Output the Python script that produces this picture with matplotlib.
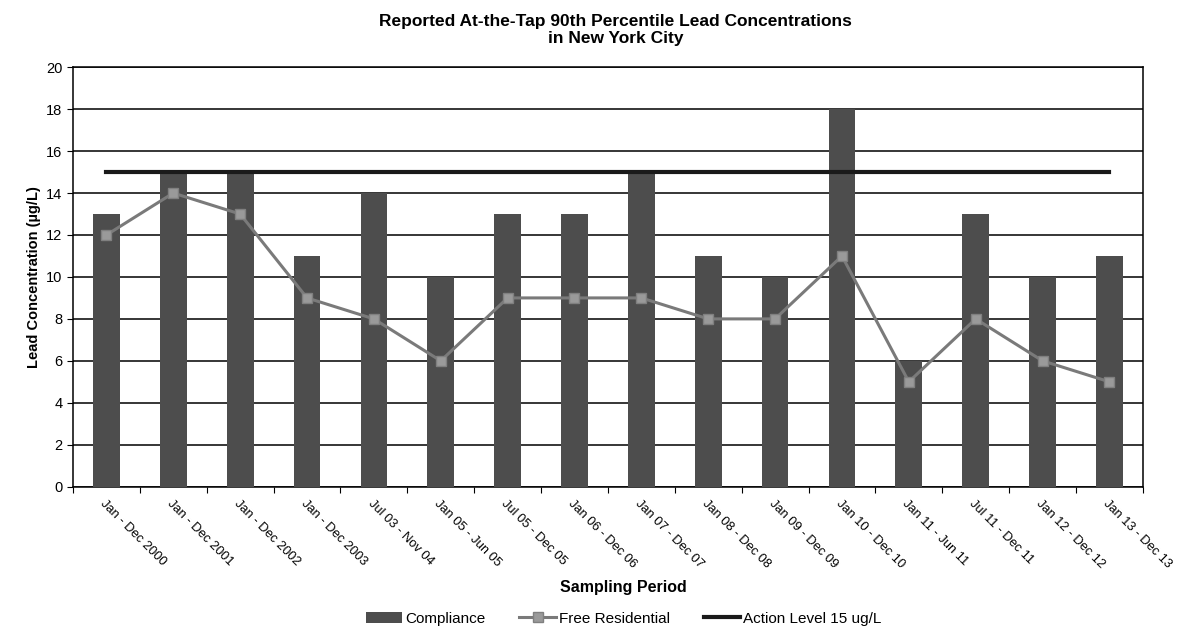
import numpy as np
import matplotlib.pyplot as plt

plt.rcParams['font.family'] = ['Liberation Sans', 'DejaVu Sans']

periods = ["Jan - Dec 2000", "Jan - Dec 2001", "Jan - Dec 2002", "Jan - Dec 2003",
           "Jul 03 - Nov 04", "Jan 05 - Jun 05", "Jul 05 - Dec 05", "Jan 06 - Dec 06",
           "Jan 07 - Dec 07", "Jan 08 - Dec 08", "Jan 09 - Dec 09", "Jan 10 - Dec 10",
           "Jan 11 - Jun 11", "Jul 11 - Dec 11", "Jan 12 - Dec 12", "Jan 13 - Dec 13"]
compliance = [13, 15, 15, 11, 14, 10, 13, 13, 15, 11, 10, 18, 6, 13, 10, 11]
free_residential = [12, 14, 13, 9, 8, 6, 9, 9, 9, 8, 8, 11, 5, 8, 6, 5]
action_level = [15] * len(periods)

x = np.arange(len(periods))

fig = plt.figure(figsize=(11.77, 6.28), dpi=100)
ax = fig.add_axes([0.062, 0.225, 0.909, 0.668])

bars = ax.bar(x, compliance, width=0.4, color='#4d4d4d', label='Compliance', zorder=3)
free_line, = ax.plot(x, free_residential, color='#7a7a7a', lw=2.2, marker='s', markersize=7,
                     markerfacecolor='#9a9a9a', markeredgecolor='#808080',
                     label='Free Residential', zorder=4)
action_line, = ax.plot(x, action_level, color='#1a1a1a', lw=3, label='Action Level 15 ug/L', zorder=4)

ax.set_xlim(-0.5, len(periods) - 0.5)
ax.set_ylim(0, 20)
ax.set_yticks(range(0, 21, 2))
ax.yaxis.grid(True, color='black', lw=1.1)
ax.set_axisbelow(True)

# ticks between categories, labels at the bar centres
ax.set_xticks(np.arange(-0.5, len(periods)), minor=False)
ax.set_xticklabels([])
ax.set_xticks(x, minor=True)
ax.set_xticklabels(periods, minor=True, rotation=-45, ha='left', va='top',
                   rotation_mode='anchor', fontsize=9.3)
ax.tick_params(axis='x', which='minor', length=0, pad=8)
ax.tick_params(axis='x', which='major', length=4, direction='out')
ax.tick_params(axis='y', labelsize=10.5, length=4)

for s in ax.spines.values():
    s.set_color('black')
    s.set_linewidth(1.1)

ax.set_ylabel('Lead Concentration (\u00b5g/L)', fontsize=10.5, fontweight='bold')
fig.text(0.53, 0.058, 'Sampling Period', ha='center', fontsize=11.5, fontweight='bold')
fig.suptitle('Reported At-the-Tap 90th Percentile Lead Concentrations\nin New York City',
             y=0.978, x=0.523, fontsize=12.5, fontweight='bold', linespacing=1.15)

fig.legend([bars, free_line, action_line],
           ['Compliance', 'Free Residential', 'Action Level 15 ug/L'],
           loc='lower center', bbox_to_anchor=(0.53, -0.018), ncol=3, frameon=False,
           fontsize=11, handlelength=2.4, handletextpad=0.2, columnspacing=2.2)

fig.savefig('out.png', dpi=100)
